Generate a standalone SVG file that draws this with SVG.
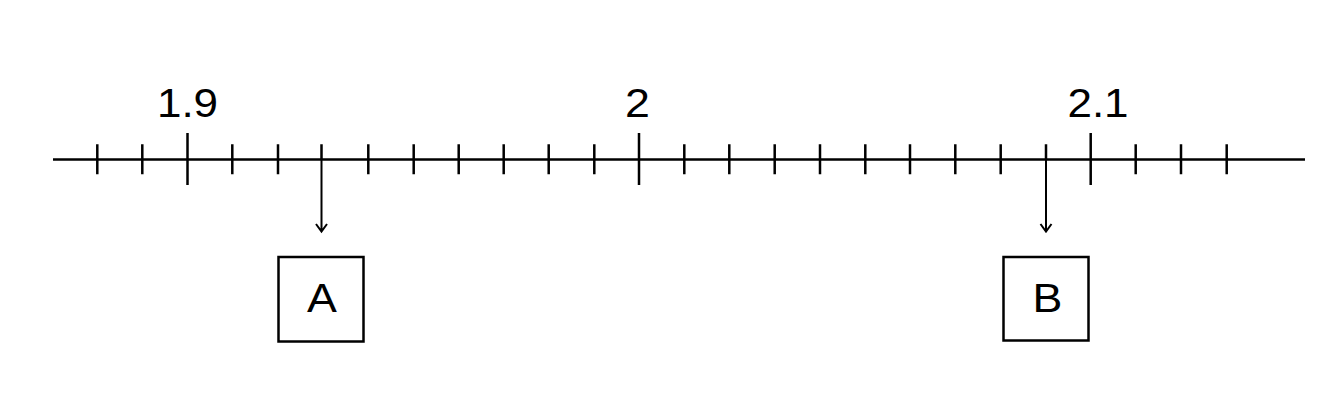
<svg xmlns="http://www.w3.org/2000/svg" width="1340" height="416" viewBox="0 0 1340 416">
<style>
.ln{stroke:#000;stroke-width:2.5;fill:none}
.con{stroke:#000;stroke-width:2;fill:none}
.box{stroke:#000;stroke-width:2.5;fill:#fff}
.t{font-family:"Liberation Sans",Arial,sans-serif;font-size:40px;fill:#000;text-anchor:middle}
</style>
<rect width="1340" height="416" fill="#fff"/>
<g id="axis">
<line class="ln" x1="53" y1="159.5" x2="1305" y2="159.5"/>
<path class="ln" d="M97.3,144.3V174.3 M142.3,144.3V174.3 M232.3,144.3V174.3 M278,144.3V174.3 M321.5,144.3V159.5 M368.3,144.3V174.3 M413.7,144.3V174.3 M458.7,144.3V174.3 M503.7,144.3V174.3 M548.7,144.3V174.3 M594.3,144.3V174.3 M684.3,144.3V174.3 M729.3,144.3V174.3 M774.7,144.3V174.3 M820,144.3V174.3 M865.3,144.3V174.3 M910,144.3V174.3 M955.3,144.3V174.3 M1000.7,144.3V174.3 M1046,144.3V159.5 M1135.7,144.3V174.3 M1181,144.3V174.3 M1226.7,144.3V174.3"/>
<path class="ln" d="M187.5,133V185 M639,133V185 M1090.7,133V185"/>
<text class="t" transform="translate(187.5,117) scale(1.1,1)">1.9</text>
<text class="t" transform="translate(637.5,117) scale(1.12,1)">2</text>
<text class="t" transform="translate(1098,117) scale(1.1,1)">2.1</text>
</g>
<g id="connectors">
<path class="con" d="M321.5,159.5V231.5 M316,224L321.5,231.5L327,224"/>
<path class="con" d="M1046,159.5V231.5 M1040.5,224L1046,231.5L1051.5,224"/>
</g>
<g id="nodeA">
<rect class="box" x="278.5" y="257" width="85" height="84.5"/>
<text class="t" transform="translate(322,312) scale(1.12,1)">A</text>
</g>
<g id="nodeB">
<rect class="box" x="1003.5" y="257" width="85" height="83.5"/>
<text class="t" transform="translate(1047.5,312) scale(1.12,1)">B</text>
</g>
</svg>
